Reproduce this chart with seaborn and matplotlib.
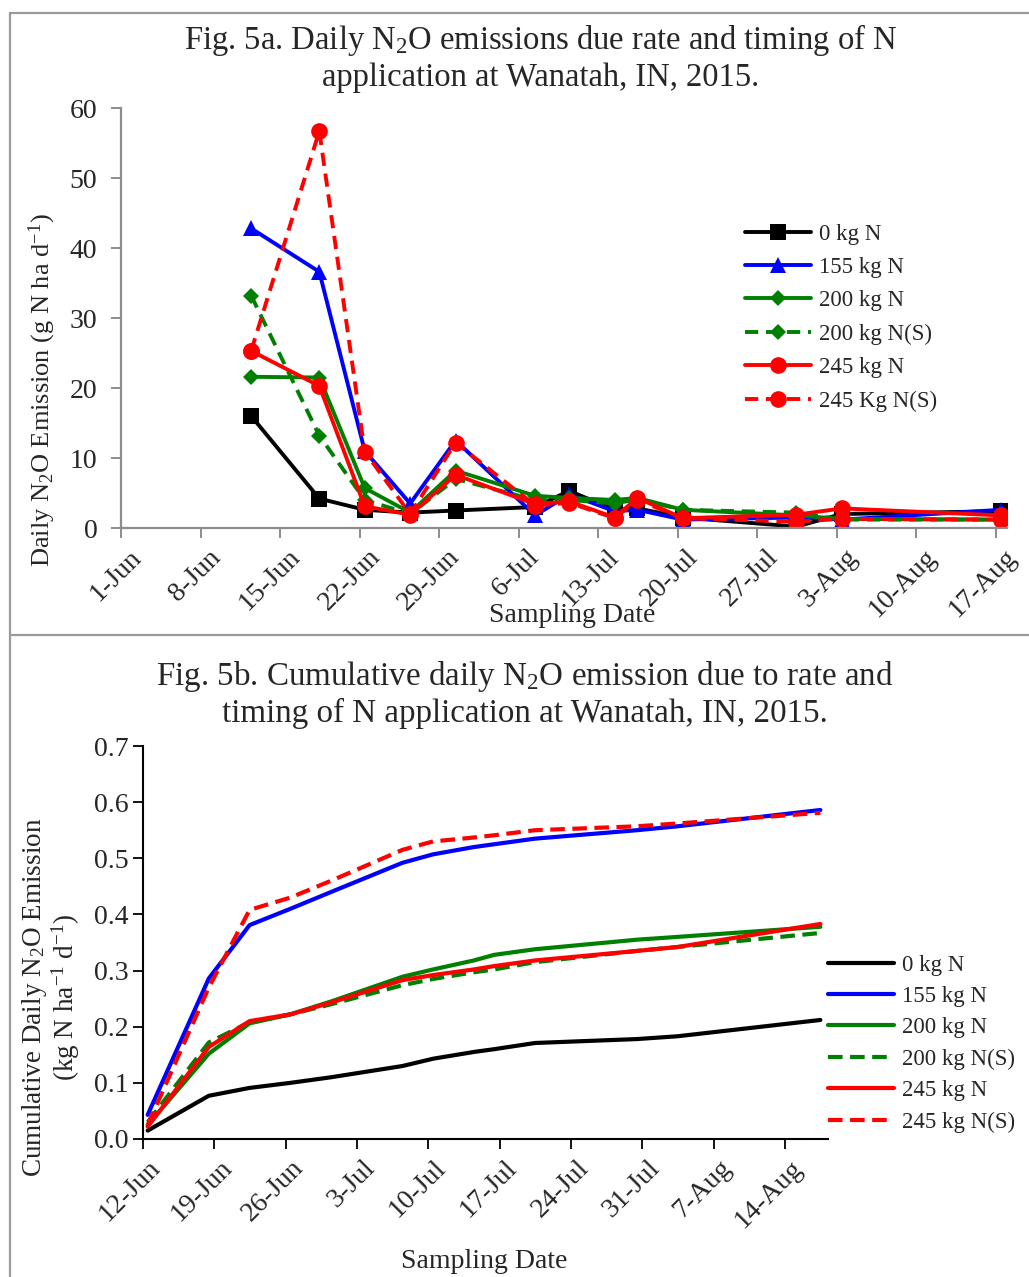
import seaborn as sns
import matplotlib.pyplot as plt
import matplotlib.dates as mdates
import matplotlib.transforms as mtransforms
from matplotlib.lines import Line2D
import pandas as pd

# Datas de amostragem
datas = ["2015-06-12", "2015-06-18", "2015-06-22", "2015-06-26", "2015-06-30",
         "2015-07-07", "2015-07-10", "2015-07-14", "2015-07-16", "2015-07-20",
         "2015-07-30", "2015-08-03", "2015-08-17"]

tratamentos = ["0 kg N", "155 kg N", "200 kg N", "200 kg N(S)", "245 kg N", "245 Kg N(S)"]
tratamentos_b = ["0 kg N", "155 kg N", "200 kg N", "200 kg N(S)", "245 kg N", "245 kg N(S)"]

# Fig. 5a - emissao diaria (g N ha-1 d-1)
diaria_0 = [16.0, 4.2, 2.6, 2.2, 2.5, 3.0, 5.3, 2.6, 2.8, 1.5, 0.2, 2.0, 2.4]
diaria_155 = [42.8, 36.6, 11.0, 3.5, 12.5, 1.8, 4.8, 2.4, 2.6, 1.2, 1.5, 1.2, 2.6]
diaria_200 = [21.6, 21.5, 5.7, 2.2, 8.2, 4.6, 4.3, 4.0, 4.3, 2.6, 1.8, 1.3, 1.2]
diaria_200s = [33.2, 13.2, 4.0, 2.0, 7.0, 4.0, 4.0, 3.5, 4.1, 2.6, 2.2, 1.2, 1.2]
diaria_245 = [25.3, 20.3, 3.1, 1.9, 7.6, 3.4, 3.8, 1.5, 4.3, 1.4, 1.9, 2.8, 1.8]
diaria_245s = [25.3, 56.7, 10.9, 2.0, 12.2, 3.2, 3.6, 1.4, 4.0, 1.4, 0.9, 1.3, 1.2]

# Fig. 5b - emissao acumulada (kg N ha-1 d-1)
acum_0 = [0.015, 0.077, 0.091, 0.100, 0.110, 0.130, 0.143, 0.155, 0.160, 0.171, 0.178, 0.183, 0.212]
acum_155 = [0.043, 0.286, 0.381, 0.410, 0.440, 0.492, 0.507, 0.520, 0.525, 0.535, 0.550, 0.557, 0.586]
acum_200 = [0.025, 0.152, 0.206, 0.222, 0.245, 0.289, 0.302, 0.318, 0.328, 0.338, 0.355, 0.360, 0.378]
acum_200s = [0.030, 0.172, 0.208, 0.222, 0.240, 0.274, 0.285, 0.297, 0.302, 0.315, 0.335, 0.342, 0.367]
acum_245 = [0.022, 0.164, 0.210, 0.222, 0.243, 0.283, 0.292, 0.302, 0.308, 0.318, 0.335, 0.342, 0.383]
acum_245s = [0.025, 0.270, 0.408, 0.430, 0.460, 0.515, 0.530, 0.537, 0.541, 0.550, 0.557, 0.562, 0.581]

cores = ["black", "#0000FF", "#008000", "#008000", "#FF0000", "#FF0000"]
marcadores = ["s", "^", "D", "D", "o", "o"]


def longo(series, nomes, coluna):
    linhas = []
    for nome, vals in zip(nomes, series):
        for d, v in zip(datas, vals):
            # o Excel desenha os pontos um pouco depois da marca do dia
            linhas.append({"Data": pd.Timestamp(d) + pd.Timedelta(hours=11),
                           coluna: v, "Trat": nome})
    return pd.DataFrame(linhas)


df_a = longo([diaria_0, diaria_155, diaria_200, diaria_200s, diaria_245, diaria_245s],
             tratamentos, "Emissao")
df_b = longo([acum_0, acum_155, acum_200, acum_200s, acum_245, acum_245s],
             tratamentos_b, "Acumulada")

sns.set_theme(style="white")
plt.rcParams["font.family"] = ["Liberation Serif", "DejaVu Serif"]
plt.rcParams["mathtext.fontset"] = "custom"
plt.rcParams["mathtext.rm"] = "Liberation Serif"
plt.rcParams["mathtext.it"] = "Liberation Serif:italic"

W, H = 1029, 1277
fig = plt.figure(figsize=(W / 100, H / 100), dpi=100)


def caixa(x0, y0, x1, y1):
    # posicao em pixels -> fracao da figura
    return [x0 / W, 1 - y1 / H, (x1 - x0) / W, (y1 - y0) / H]


def desloca_rotulos(ax, dx_px, dy_px):
    off = mtransforms.ScaledTranslation(dx_px / 100, dy_px / 100, fig.dpi_scale_trans)
    for lab in ax.get_xticklabels():
        lab.set_transform(lab.get_transform() + off)


# bordas dos paineis
cinza = "#9a9a9a"
fig.add_artist(Line2D([10 / W, 1], [1 - 13 / H] * 2, color=cinza, lw=1.6))
fig.add_artist(Line2D([10 / W, 1], [1 - 635 / H] * 2, color=cinza, lw=1.6))
fig.add_artist(Line2D([10 / W] * 2, [0, 1 - 13 / H], color=cinza, lw=1.6))

# ---------------- Fig. 5a ----------------
ax1 = fig.add_axes(caixa(121, 108, 1007, 528))
sns.lineplot(data=df_a, x="Data", y="Emissao", hue="Trat", style="Trat",
             palette=dict(zip(tratamentos, cores)),
             markers=dict(zip(tratamentos, marcadores)),
             dashes=dict(zip(tratamentos, ["", "", "", (3.4, 2), "", (3.4, 2)])),
             linewidth=2.8, markersize=11, markeredgewidth=0,
             estimator=None, sort=False, ax=ax1)
for ln in ax1.lines:
    if ln.get_marker() == "D":
        ln.set_markersize(8.5)
    if ln.get_marker() == "o":
        ln.set_markersize(12)

ax1.set_xlim(pd.Timestamp("2015-06-01"), pd.Timestamp("2015-08-18"))
ax1.set_ylim(0, 60)
ax1.set_yticks(range(0, 61, 10))
ax1.set_xticks(pd.date_range("2015-06-01", "2015-08-17", freq="7D"))
ax1.xaxis.set_major_formatter(mdates.DateFormatter("%-d-%b"))
for s in ["top", "right"]:
    ax1.spines[s].set_visible(False)
for s in ["left", "bottom"]:
    ax1.spines[s].set_color("#8c8c8c")
    ax1.spines[s].set_linewidth(1.6)
ax1.tick_params(axis="both", which="major", direction="out", length=7, width=1.4,
                color="#8c8c8c", labelsize=20, left=True, bottom=True)
ax1.tick_params(axis="y", pad=10)
plt.setp(ax1.get_xticklabels(), rotation=45, ha="right", rotation_mode="anchor")
desloca_rotulos(ax1, 8, -2)
ax1.set_xlabel("")
ax1.set_ylabel("")

h, l = ax1.get_legend_handles_labels()
ax1.legend(h, l, loc="upper left", bbox_to_anchor=(724 / W, 1 - 203 / H),
           bbox_transform=fig.transFigure, frameon=False, fontsize=16.5,
           handlelength=2.9, handletextpad=0.35, labelspacing=0.54)

fig.text(541 / W, 1 - 40 / H, "Fig. 5a. Daily N$_2$O emissions due rate and timing of N",
         ha="center", va="center", fontsize=23.5)
fig.text(541 / W, 1 - 78 / H, "application at Wanatah, IN, 2015.",
         ha="center", va="center", fontsize=23.5)
fig.text(42 / W, 1 - 390 / H, "Daily N$_2$O Emission (g N ha d$^{-1}$)",
         ha="center", va="center", rotation=90, fontsize=19)
fig.text(572 / W, 1 - 615 / H, "Sampling Date", ha="center", va="center", fontsize=20)

# ---------------- Fig. 5b ----------------
ax2 = fig.add_axes(caixa(143, 746, 828, 1139))
sns.lineplot(data=df_b, x="Data", y="Acumulada", hue="Trat", style="Trat",
             palette=dict(zip(tratamentos_b, cores)),
             dashes=dict(zip(tratamentos_b, ["", "", "", (3.5, 1.8), "", (3.5, 1.8)])),
             markers=False, linewidth=3.0, estimator=None, sort=False, ax=ax2)

ax2.set_xlim(pd.Timestamp("2015-06-12"), pd.Timestamp("2015-08-18 05:00"))
ax2.set_ylim(0, 0.7)
ax2.set_yticks([i / 10 for i in range(8)])
ax2.yaxis.set_major_formatter(plt.FormatStrFormatter("%.1f"))
ax2.set_xticks(pd.date_range("2015-06-12", "2015-08-14", freq="7D"))
ax2.xaxis.set_major_formatter(mdates.DateFormatter("%-d-%b"))
for s in ["top", "right"]:
    ax2.spines[s].set_visible(False)
for s in ["left", "bottom"]:
    ax2.spines[s].set_color("black")
    ax2.spines[s].set_linewidth(1.5)
ax2.tick_params(axis="both", which="major", direction="out", length=7, width=1.3,
                color="black", labelsize=20, left=True, bottom=True)
plt.setp(ax2.get_xticklabels(), rotation=45, ha="right", rotation_mode="anchor")
desloca_rotulos(ax2, 5, -2)
ax2.set_xlabel("")
ax2.set_ylabel("")

h, l = ax2.get_legend_handles_labels()
ax2.legend(h, l, loc="upper left", bbox_to_anchor=(807 / W, 1 - 934 / H),
           bbox_transform=fig.transFigure, frameon=False, fontsize=16.5,
           handlelength=2.9, handletextpad=0.35, labelspacing=0.45)

fig.text(525 / W, 1 - 676 / H, "Fig. 5b. Cumulative daily N$_2$O emission due to rate and",
         ha="center", va="center", fontsize=23.8)
fig.text(525 / W, 1 - 713 / H, "timing of N application at Wanatah, IN, 2015.",
         ha="center", va="center", fontsize=23.8)
fig.text(35 / W, 1 - 997 / H, "Cumulative Daily N$_2$O Emission",
         ha="center", va="center", rotation=90, fontsize=19.5)
fig.text(66 / W, 1 - 997 / H, "(kg N ha$^{-1}$ d$^{-1}$)",
         ha="center", va="center", rotation=90, fontsize=19.5)
fig.text(484 / W, 1 - 1262 / H, "Sampling Date", ha="center", va="center", fontsize=20)

fig.savefig("out.png", dpi=100)
